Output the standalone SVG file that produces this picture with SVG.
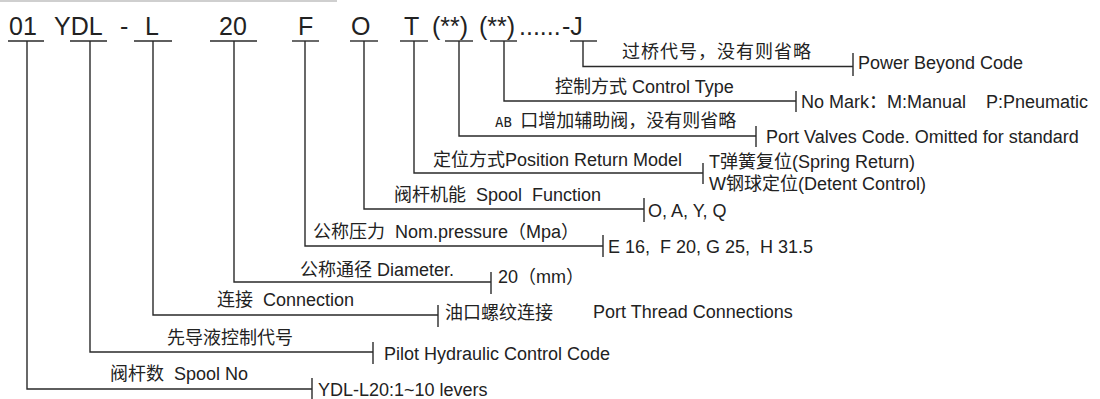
<svg xmlns="http://www.w3.org/2000/svg" width="1100" height="399" viewBox="0 0 1100 399">
<style>
.code{font-family:"Liberation Sans",Arial,sans-serif;font-size:25px;fill:#222}
.lb{font-family:"Liberation Sans","Noto Sans CJK SC",sans-serif;font-size:18px;fill:#222;white-space:pre}
.cn{font-family:"Noto Sans CJK SC","Liberation Sans",sans-serif}
.ln{stroke:#2a2a2a;stroke-width:1.4;fill:none}
</style>
<rect width="1100" height="399" fill="#fff"/>
<line x1="0" y1="1" x2="337" y2="1" stroke="#cfcfcf" stroke-width="2"/>
<g id="code-01"><text class="code" x="9" y="35">01</text><line class="ln" x1="8" y1="41" x2="44" y2="41"/></g>
<g id="code-ydl"><text class="code" x="54" y="35">YDL</text><line class="ln" x1="70" y1="41" x2="107" y2="41"/></g>
<g id="code-dash"><text class="code" x="120" y="35">-</text></g>
<g id="code-l"><text class="code" x="145" y="35">L</text><line class="ln" x1="134" y1="41" x2="172" y2="41"/></g>
<g id="code-20"><text class="code" x="219" y="35">20</text><line class="ln" x1="210" y1="41" x2="257" y2="41"/></g>
<g id="code-f"><text class="code" x="298" y="35">F</text><line class="ln" x1="292" y1="41" x2="319" y2="41"/></g>
<g id="code-o"><text class="code" x="351" y="35">O</text><line class="ln" x1="350" y1="41" x2="378" y2="41"/></g>
<g id="code-t"><text class="code" x="404" y="35">T</text><line class="ln" x1="400" y1="41" x2="428" y2="41"/></g>
<g id="code-ab"><text class="code" x="432" y="35">(**)</text><line class="ln" x1="445" y1="41" x2="473" y2="41"/></g>
<g id="code-ctrl"><text class="code" x="479" y="35">(**)</text><text class="code" x="519" y="35">......</text><line class="ln" x1="490" y1="41" x2="517" y2="41"/></g>
<g id="code-j"><text class="code" x="562" y="35">-J</text><line class="ln" x1="570" y1="41" x2="597" y2="41"/></g>

<g id="connectors" class="ln">
<polyline points="583,41 583,66.5 853,66.5"/><line x1="853" y1="53" x2="853" y2="76"/>
<polyline points="504,41 504,101 796,101"/><line x1="796" y1="91" x2="796" y2="112"/>
<polyline points="459,41 459,136 756,136"/><line x1="756" y1="126" x2="756" y2="147"/>
<polyline points="414,41 414,173 703,173"/><line x1="703" y1="163" x2="703" y2="184"/>
<polyline points="364,41 364,209 644,209"/><line x1="644" y1="198" x2="644" y2="222"/>
<polyline points="305,41 305,246 603,246"/><line x1="603" y1="235" x2="603" y2="257"/>
<polyline points="234,41 234,282 491,282"/><line x1="491" y1="272" x2="491" y2="294"/>
<polyline points="153,41 153,315 438,315"/><line x1="438" y1="305" x2="438" y2="327"/>
<polyline points="90,41 90,352 373,352"/><line x1="373" y1="342" x2="373" y2="364"/>
<polyline points="27,41 27,389 312,389"/><line x1="312" y1="378" x2="312" y2="399"/>
</g>

<g id="label-j">
<text class="lb cn" x="622" y="58" letter-spacing="1">过桥代号，没有则省略</text>
<text class="lb" x="858" y="69">Power Beyond Code</text>
</g>
<g id="label-ctrl">
<text class="lb" x="555" y="93"><tspan class="cn">控制方式</tspan> Control Type</text>
<text class="lb" x="801" y="108">No Mark<tspan class="cn">：</tspan>M:Manual    P:Pneumatic</text>
</g>
<g id="label-ab">
<text class="lb" x="495" y="127"><tspan font-family="'DejaVu Sans Mono',monospace" font-size="14">AB </tspan><tspan class="cn">口增加辅助阀，没有则省略</tspan></text>
<text class="lb" x="766" y="143">Port Valves Code. Omitted for standard</text>
</g>
<g id="label-t">
<text class="lb" x="433" y="166"><tspan class="cn">定位方式</tspan>Position Return Model</text>
<text class="lb" x="709" y="168">T<tspan class="cn">弹簧复位</tspan>(Spring Return)</text>
<text class="lb" x="709" y="190">W<tspan class="cn">钢球定位</tspan>(Detent Control)</text>
</g>
<g id="label-o">
<text class="lb" x="394" y="201"><tspan class="cn">阀杆机能</tspan>  Spool  Function</text>
<text class="lb" x="648" y="217">O, A, Y, Q</text>
</g>
<g id="label-f">
<text class="lb" x="313" y="238"><tspan class="cn">公称压力</tspan>  Nom.pressure<tspan class="cn">（</tspan>Mpa<tspan class="cn">）</tspan></text>
<text class="lb" x="608" y="253">E 16,  F 20, G 25,  H 31.5</text>
</g>
<g id="label-20">
<text class="lb" x="300" y="276"><tspan class="cn">公称通径</tspan> Diameter.</text>
<text class="lb" x="498" y="283">20<tspan class="cn">（</tspan>mm<tspan class="cn">）</tspan></text>
</g>
<g id="label-l">
<text class="lb" x="217" y="306"><tspan class="cn">连接</tspan>  Connection</text>
<text class="lb cn" x="445" y="319" font-size="21">油口螺纹连接</text>
<text class="lb" x="593" y="318">Port Thread Connections</text>
</g>
<g id="label-ydl">
<text class="lb cn" x="167" y="344">先导液控制代号</text>
<text class="lb" x="384" y="360">Pilot Hydraulic Control Code</text>
</g>
<g id="label-01">
<text class="lb" x="110" y="380"><tspan class="cn">阀杆数</tspan>  Spool No</text>
<text class="lb" x="318" y="396">YDL-L20:1~10 levers</text>
</g>
</svg>
